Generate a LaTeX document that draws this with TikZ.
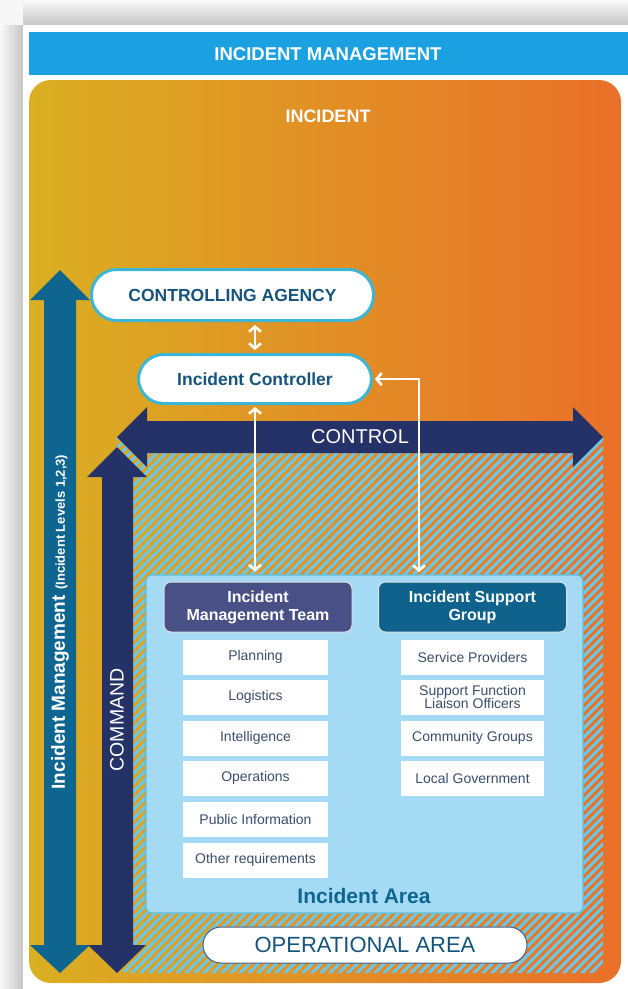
\documentclass[tikz,border=0pt]{standalone}
\usepackage{fontspec}
\setmainfont{Liberation Sans}
\usepackage{xcolor}
\usetikzlibrary{arrows.meta,positioning}

\definecolor{barblue}{RGB}{27,161,226}
\definecolor{goldside}{RGB}{218,175,34}
\definecolor{orangeside}{RGB}{233,112,41}
\definecolor{levelteal}{RGB}{14,101,144}
\definecolor{cmdnavy}{RGB}{37,50,104}
\definecolor{hatchblue}{RGB}{108,200,232}
\definecolor{areablue}{RGB}{164,218,244}
\definecolor{arealine}{RGB}{93,192,225}
\definecolor{imtpurple}{RGB}{72,80,133}
\definecolor{isgteal}{RGB}{14,98,140}
\definecolor{tasktext}{RGB}{58,78,108}
\definecolor{agencyline}{RGB}{60,182,210}
\definecolor{agencytext}{RGB}{22,84,124}
\definecolor{oparealine}{RGB}{70,95,130}

\newcommand{\fsz}[1]{\fontsize{#1}{#1}\selectfont}

\tikzset{
  agencybox/.style={draw=agencyline, line width=3pt, fill=white, rounded corners=25pt,
    text=agencytext, font=\fsz{17.5}\bfseries},
  headbox/.style={draw=white!75!gray, line width=1pt, rounded corners=7pt,
    minimum width=188pt, minimum height=50pt, align=center, text=white,
    font=\fontsize{16}{18}\selectfont\bfseries},
  taskbox/.style={fill=white, minimum width=145pt, minimum height=35pt, inner sep=0pt,
    align=center, text=tasktext, font=\fontsize{14}{13.5}\selectfont},
  linkarrow/.style={white, line width=2.6pt,
    {Straight Barb[length=5pt,width=12pt]}-{Straight Barb[length=5pt,width=12pt]}}
}

\begin{document}
\begin{tikzpicture}[x=1pt,y=-1pt]
    \useasboundingbox (0,0) rectangle (628,989);

    % Page shadow and card
    \fill[gray!6] (0,0) rectangle (628,989);
    \shade[left color=gray!5, right color=gray!45] (0,25) rectangle (23,989);
    \shade[top color=gray!5, bottom color=gray!45] (23,0) rectangle (628,25);
    \fill[white] (23,25) rectangle (628,989);

    % Title bar
    \fill[barblue] (29,32) rectangle (628,75);
    \node[text=white, font=\fsz{18.5}\bfseries] (title) at (328,54) {INCIDENT MANAGEMENT};

    % Incident background
    \shade[left color=goldside, right color=orangeside, rounded corners=22pt] (29,80) rectangle (621,983);
    \node[text=white, font=\fsz{18}\bfseries] (incident) at (328,116) {INCIDENT};

    % Hatched operational area
    \begin{scope}
        \clip (117,437) -- (603,437) [rounded corners=12pt] -- (603,973) -- (117,973) [sharp corners] -- cycle;
        \foreach \sx in {-440,-431,...,610}
            \draw[hatchblue, line width=3pt] (\sx,978) -- (\sx+545,433);
    \end{scope}

    % Incident levels arrow
    \fill[levelteal] (60,270) -- (90,300) -- (76,300) -- (76,945) -- (90,945) -- (60,973)
        -- (30,945) -- (44,945) -- (44,300) -- (30,300) -- cycle;
    \node[rotate=90, text=white, font=\fsz{19}\bfseries] (levels) at (60,622)
        {Incident Management {\fsz{13}(Incident Levels 1,2,3)}};

    % Command arrow
    \fill[cmdnavy] (117,447) -- (147,477) -- (133,477) -- (133,945) -- (146,945) -- (117,973)
        -- (88,945) -- (102,945) -- (102,477) -- (87,477) -- cycle;
    \node[rotate=90, text=white, font=\fsz{19.5}] (command) at (117,720) {COMMAND};

    % Control arrow
    \fill[cmdnavy] (117,437) -- (147,407) -- (147,421) -- (573,421) -- (573,407) -- (603,437)
        -- (573,467) -- (573,453) -- (147,453) -- (147,467) -- cycle;
    \node[text=white, font=\fsz{20}] (control) at (360,437) {CONTROL};

    % Agency and controller
    \node[agencybox, minimum width=282pt, minimum height=51pt] (agency) at (232.5,295) {CONTROLLING AGENCY};
    \node[agencybox, minimum width=233pt, minimum height=49pt] (ctrl) at (255,379) {Incident Controller};

    % Incident area
    \draw[arealine, fill=areablue, line width=1.2pt, rounded corners=6pt] (146,575) rectangle (583,913);
    \node[text=levelteal, font=\fsz{21}\bfseries] (area) at (364,896) {Incident Area};

    % Team headers
    \node[headbox, fill=imtpurple] (imt) at (258,607) {Incident\\Management Team};
    \node[headbox, fill=isgteal] (isg) at (472.5,607) {Incident Support\\Group};

    % Management team tasks
    \node[taskbox] (plan) at (255.5,657) {Planning};
    \node[taskbox] (logi) at (255.5,697) {Logistics};
    \node[taskbox] (intel) at (255.5,738) {Intelligence};
    \node[taskbox] (ops) at (255.5,778) {Operations};
    \node[taskbox] (pubinfo) at (255.5,819) {Public Information};
    \node[taskbox] (other) at (255.5,860) {Other requirements};

    % Support group members
    \node[taskbox, minimum width=143pt] (service) at (472.5,657) {Service Providers};
    \node[taskbox, minimum width=143pt] (liaison) at (472.5,697) {Support Function\\Liaison Officers};
    \node[taskbox, minimum width=143pt] (community) at (472.5,738) {Community Groups};
    \node[taskbox, minimum width=143pt] (localgov) at (472.5,778) {Local Government};

    % Operational area label
    \node[draw=oparealine, line width=1pt, fill=white, rounded corners=18pt, minimum width=324pt,
        minimum height=36pt, text=agencytext, font=\fsz{22}] (oparea) at (365,945) {OPERATIONAL AREA};

    % Links
    \coordinate (isgtop) at (419,582);
    \draw[linkarrow, shorten <=3pt, shorten >=3pt] (ctrl.north) -- (ctrl.north |- agency.south);
    \draw[linkarrow, shorten <=2pt, shorten >=10pt] (ctrl.south) -- (ctrl.south |- imt.north);
    \draw[linkarrow, shorten <=2pt, shorten >=10pt] (ctrl.east) -| (isgtop);

\end{tikzpicture}
\end{document}
